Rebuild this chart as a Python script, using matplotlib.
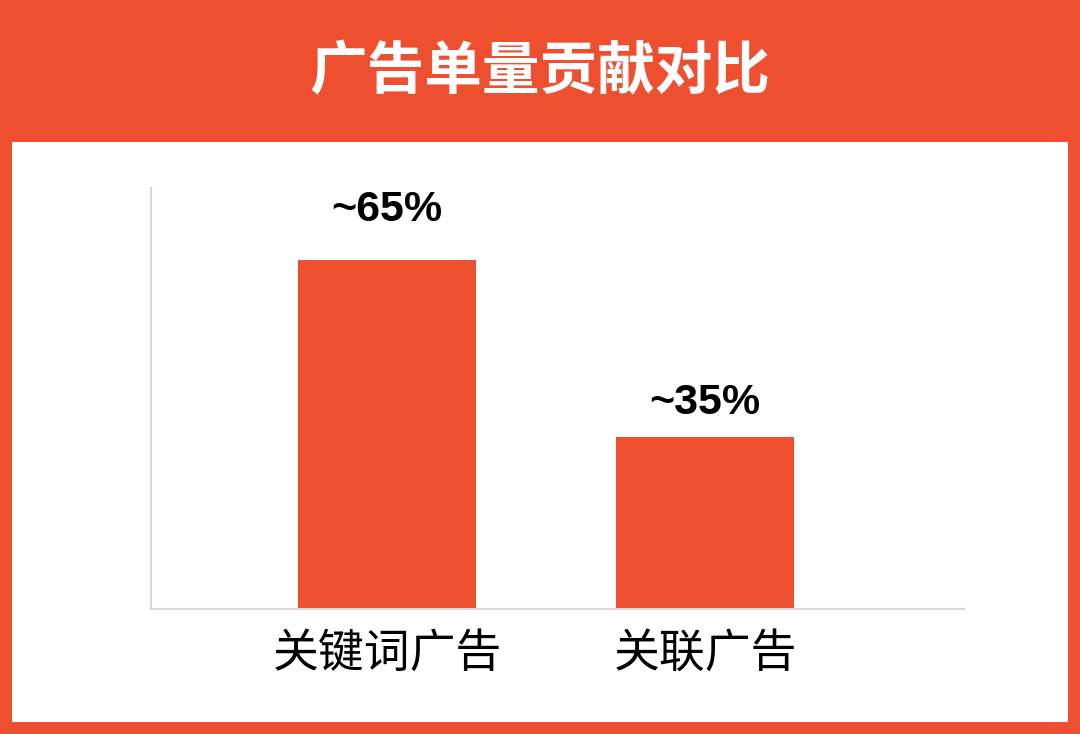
import matplotlib
matplotlib.use("Agg")
import matplotlib.pyplot as plt
from matplotlib.patches import Rectangle

plt.rcParams['font.family'] = ['Noto Sans CJK SC', 'DejaVu Sans']

title = "广告单量贡献对比"
categories = ["关键词广告", "关联广告"]
values = [65, 32]
value_labels = ["~65%", "~35%"]

ORANGE = "#EE4F2F"
GRID = "#D9D9D9"
label_offsets_pt = [28, 16.5]

fig = plt.figure(figsize=(10.8, 7.34), dpi=100)
fig.patch.set_facecolor(ORANGE)

# white panel
fig.patches.append(Rectangle((12/1080, (734-721.7)/734), (1067.5-12)/1080, (721.7-142)/734,
                             transform=fig.transFigure, facecolor="white", edgecolor="none", zorder=-5))

fig.text(0.5, 1 - 72/734, title, ha="center", va="center", color="white",
         fontsize=41.5, fontweight="bold")

ax = fig.add_axes([151/1080, (734-609.3)/734, (964-151)/1080, (609.3-188)/734])
ax.set_zorder(2)
ax.set_facecolor("none")
x = list(range(len(categories)))
bars = ax.bar(x, values, width=0.558, color=ORANGE, zorder=2)
ax.set_xlim(-0.742, 1.814)
ax.set_ylim(0, 78.4)

for b, lab, off in zip(bars, value_labels, label_offsets_pt):
    ax.annotate(lab, (b.get_x() + b.get_width()/2, b.get_height()), xytext=(0, off),
                textcoords="offset points", ha="center", va="baseline",
                fontsize=31, fontweight="bold", family=["Liberation Sans", "DejaVu Sans"], color="black")

ax.set_xticks(x)
ax.set_xticklabels(categories, fontsize=33, color="black", fontweight="medium")
ax.tick_params(axis="x", length=0, pad=14)
ax.set_yticks([])
for s in ["top", "right"]:
    ax.spines[s].set_visible(False)
for s in ["left", "bottom"]:
    ax.spines[s].set_color(GRID)
    ax.spines[s].set_linewidth(1.5)

fig.savefig("out.png", dpi=100, facecolor=fig.get_facecolor())
